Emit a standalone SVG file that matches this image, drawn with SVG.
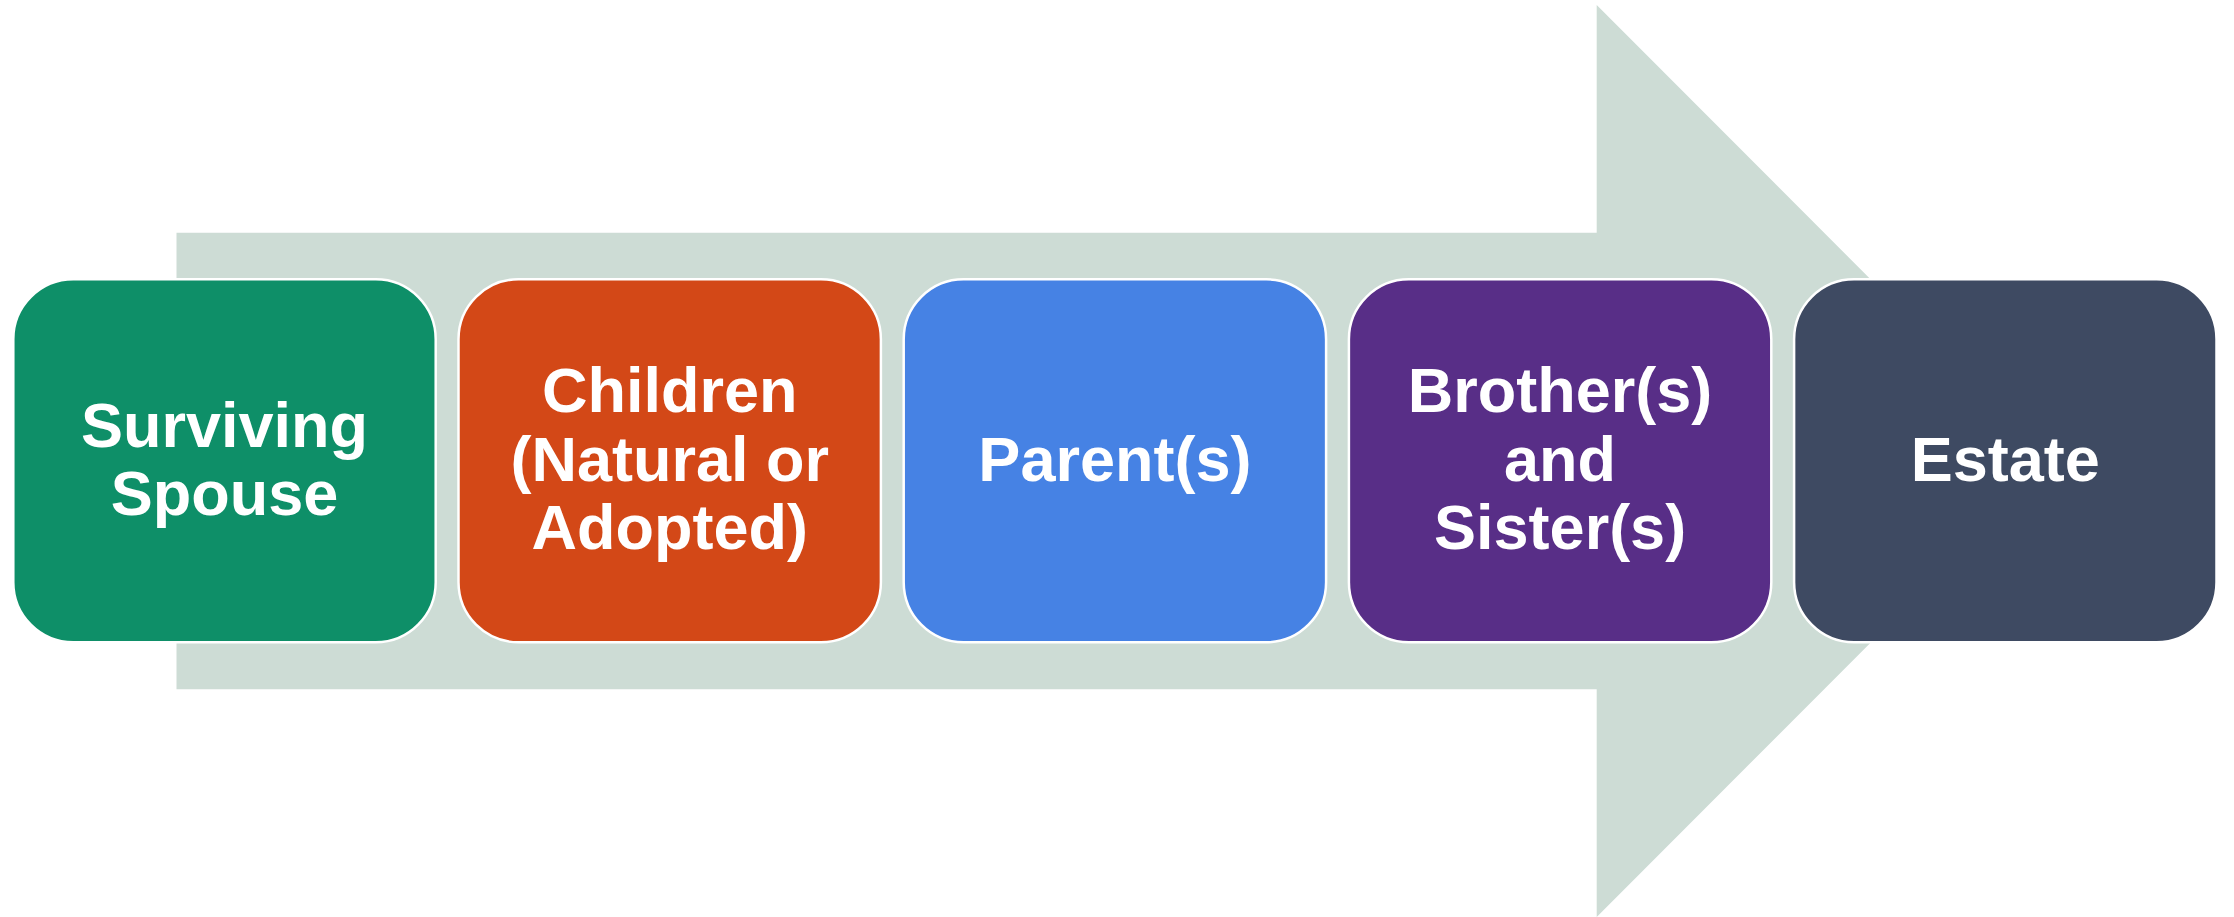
<svg xmlns="http://www.w3.org/2000/svg" width="2234" height="917" viewBox="0 0 2234 917">
  <style>
    .box { stroke: #ffffff; stroke-width: 2.5; }
    .label { font-family: "Liberation Sans", Arial, sans-serif; font-weight: bold; font-size: 63px; fill: #ffffff; text-anchor: middle; }
  </style>
  <rect width="2234" height="917" fill="#ffffff"/>

  <!-- background flow arrow -->
  <g id="connectors">
    <polygon points="176.5,232.7 1596.7,232.7 1596.7,5 2052,461 1596.7,917 1596.7,689.3 176.5,689.3" fill="#cddcd5"/>
  </g>

  <g id="node-spouse">
    <rect class="box" x="13.3" y="279.3" width="422.4" height="363" rx="60" ry="60" fill="#0e8f68"/>
    <text class="label" x="224.5" y="446.7">Surviving</text>
    <text class="label" x="224.5" y="515.2">Spouse</text>
  </g>

  <g id="node-children">
    <rect class="box" x="458.5" y="279.3" width="422.4" height="363" rx="60" ry="60" fill="#d34817"/>
    <text class="label" x="669.7" y="412.2">Children</text>
    <text class="label" x="669.7" y="480.7">(Natural or</text>
    <text class="label" x="669.7" y="549.2">Adopted)</text>
  </g>

  <g id="node-parents">
    <rect class="box" x="903.7" y="279.3" width="422.4" height="363" rx="60" ry="60" fill="#4682e4"/>
    <text class="label" x="1114.9" y="480.7">Parent(s)</text>
  </g>

  <g id="node-siblings">
    <rect class="box" x="1348.9" y="279.3" width="422.4" height="363" rx="60" ry="60" fill="#582e87"/>
    <text class="label" x="1560.1" y="412.2">Brother(s)</text>
    <text class="label" x="1560.1" y="480.7">and</text>
    <text class="label" x="1560.1" y="549.2">Sister(s)</text>
  </g>

  <g id="node-estate">
    <rect class="box" x="1794.1" y="279.3" width="422.4" height="363" rx="60" ry="60" fill="#3e4a62"/>
    <text class="label" x="2005.3" y="480.7">Estate</text>
  </g>
</svg>
